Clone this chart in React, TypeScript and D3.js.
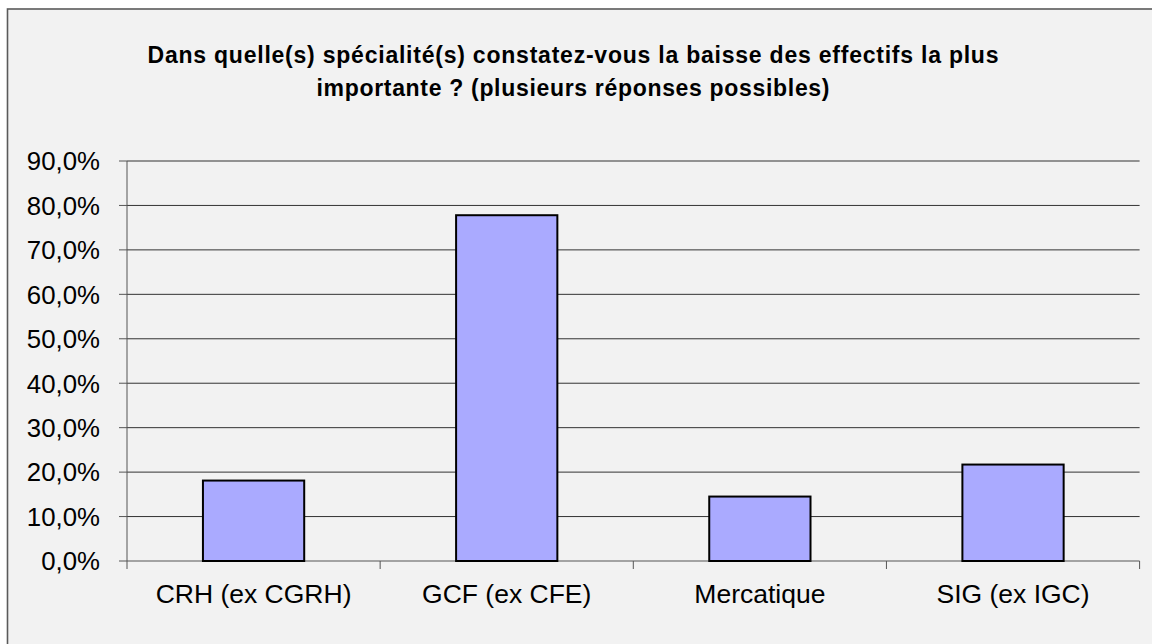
import React from "react";
import * as d3 from "d3";

const categories = ["CRH (ex CGRH)", "GCF (ex CFE)", "Mercatique", "SIG (ex IGC)"];
const values = [18.1, 77.8, 14.5, 21.7];
const yTicks = [0, 10, 20, 30, 40, 50, 60, 70, 80, 90];
const titleLines = [
  "Dans quelle(s) spécialité(s) constatez-vous la baisse des effectifs la plus",
  "importante ? (plusieurs réponses possibles)",
];
const titleWidths = [851, 513];

const W = 1152;
const H = 644;
const plot = { left: 127, right: 1139.6, top: 161, bottom: 561 };
const font = "'Liberation Sans', Arial, Helvetica, sans-serif";

export default function App() {
  const x = d3
    .scaleBand<string>()
    .domain(categories)
    .range([plot.left, plot.right])
    .paddingInner(0.6)
    .paddingOuter(0.3);
  const step = (plot.right - plot.left) / categories.length;
  const y = d3.scaleLinear().domain([0, 90]).range([plot.bottom, plot.top]);
  const fmt = (v: number) => d3.format(".1f")(v).replace(".", ",") + "%";

  return (
    <svg
      width={W}
      height={H}
      style={{ position: "absolute", left: 0, top: 0, display: "block" }}
      fontFamily={font}
    >
      <rect x={0} y={0} width={W} height={H} fill="#ffffff" />
      <rect x={7.5} y={9} width={1160} height={660} fill="#f2f2f2" stroke="#5a5a5a" strokeWidth={1.6} />
      {titleLines.map((t, i) => (
        <text
          key={i}
          x={573}
          y={62.5 + i * 33.5}
          textAnchor="middle"
          fontSize={23}
          fontWeight="bold"
          textLength={titleWidths[i]}
          lengthAdjust="spacing"
          fill="#000"
        >
          {t}
        </text>
      ))}
      {/* gridlines */}
      {yTicks.map((t) => (
        <g key={t}>
          <line
            x1={plot.left}
            x2={plot.right}
            y1={y(t)}
            y2={y(t)}
            stroke={t === 0 ? "#555" : "#333"}
            strokeWidth={1}
          />
          <line x1={plot.left - 8} x2={plot.left} y1={y(t)} y2={y(t)} stroke="#555" strokeWidth={1} />
          <text
            x={100}
            y={y(t)}
            dy="0.36em"
            textAnchor="end"
            fontSize={25.8}
            fill="#000"
          >
            {fmt(t)}
          </text>
        </g>
      ))}
      {/* y axis */}
      <line x1={plot.left} x2={plot.left} y1={plot.top} y2={plot.bottom + 8} stroke="#555" strokeWidth={1} />
      {/* x ticks */}
      {categories.map((c, i) => (
        <line
          key={c}
          x1={plot.left + step * (i + 1)}
          x2={plot.left + step * (i + 1)}
          y1={plot.bottom}
          y2={plot.bottom + 8}
          stroke="#555"
          strokeWidth={1}
        />
      ))}
      {/* bars */}
      {categories.map((c, i) => (
        <rect
          key={c}
          x={x(c)}
          y={y(values[i])}
          width={x.bandwidth()}
          height={y(0) - y(values[i])}
          fill="#aaaaff"
          stroke="#000"
          strokeWidth={2}
        />
      ))}
      {/* category labels */}
      {categories.map((c) => (
        <text
          key={c}
          x={(x(c) as number) + x.bandwidth() / 2}
          y={603}
          textAnchor="middle"
          fontSize={26.5}
          fill="#000"
        >
          {c}
        </text>
      ))}
    </svg>
  );
}
